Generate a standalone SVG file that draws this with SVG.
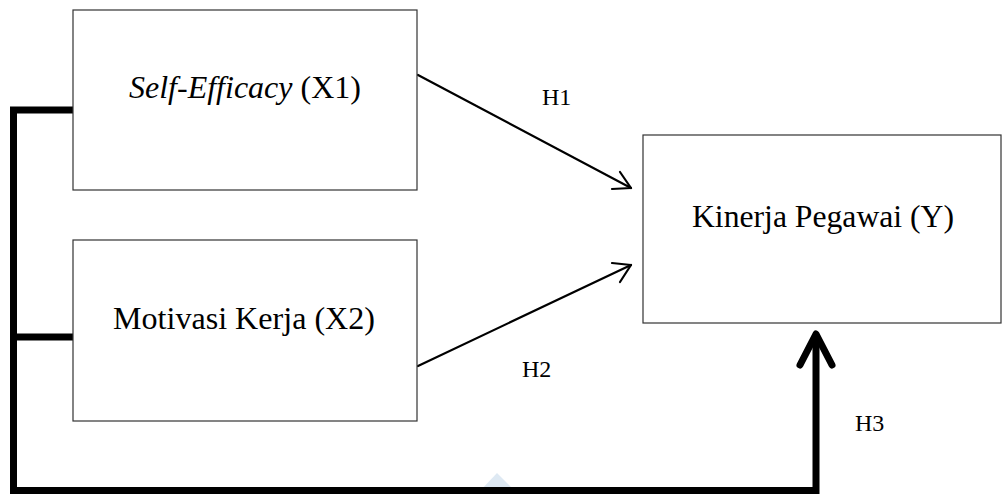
<svg xmlns="http://www.w3.org/2000/svg" width="1002" height="494" viewBox="0 0 1002 494">
<style>
.box{fill:#fff;stroke:#333;stroke-width:1.2}
.lbl{font-family:"Liberation Serif","Times New Roman",serif;font-size:31px;fill:#000}
.h{font-family:"Liberation Serif","Times New Roman",serif;font-size:24px;fill:#000}
.thin{fill:none;stroke:#000;stroke-width:2.2;stroke-linecap:round;stroke-linejoin:round}
.thick{fill:none;stroke:#000;stroke-width:7;stroke-linejoin:miter}
.head{fill:none;stroke:#000;stroke-width:7;stroke-linecap:round;stroke-linejoin:round}
</style>
<rect width="1002" height="494" fill="#fff"/>
<polygon points="480,491 497,473 515,491" fill="#d6e4f0" opacity="0.8"/>
<g id="connectors">
<polyline class="thick" points="73,110 13.5,110 13.5,490.5 816,490.5 816,338"/>
<line class="thick" x1="13.5" y1="337" x2="73" y2="337"/>
<polyline class="head" points="800,365 816,334 832,365"/>
<line class="thin" x1="418" y1="75" x2="631" y2="188"/>
<polyline class="thin" points="620,172 631,188 612,189"/>
<line class="thin" x1="418" y1="366" x2="631" y2="265"/>
<polyline class="thin" points="612,263 631,265 620,282"/>
</g>
<g id="x1">
<rect class="box" x="73" y="10" width="344" height="180"/>
<text class="lbl" x="245" y="98" text-anchor="middle" textLength="232" lengthAdjust="spacingAndGlyphs"><tspan font-style="italic">Self-Efficacy</tspan> (X1)</text>
</g>
<g id="x2">
<rect class="box" x="73" y="240" width="344" height="181"/>
<text class="lbl" x="244" y="329" text-anchor="middle" textLength="262" lengthAdjust="spacingAndGlyphs">Motivasi Kerja (X2)</text>
</g>
<g id="y">
<rect class="box" x="643" y="135" width="358" height="188"/>
<text class="lbl" x="823" y="227" text-anchor="middle" textLength="262" lengthAdjust="spacingAndGlyphs">Kinerja Pegawai (Y)</text>
</g>
<g id="labels">
<text class="h" x="542" y="105">H1</text>
<text class="h" x="522" y="377">H2</text>
<text class="h" x="855" y="431">H3</text>
</g>
</svg>
